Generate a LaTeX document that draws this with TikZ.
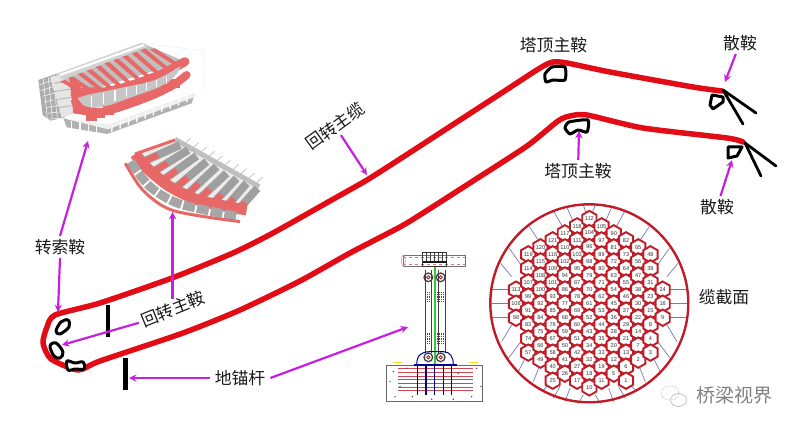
\documentclass[tikz,border=0pt]{standalone}
\usepackage{fontspec}
\setmainfont{Noto Sans CJK SC}
\newfontfamily\numfont{Liberation Sans}
\usetikzlibrary{shapes.geometric,calc}
\definecolor{cablered}{RGB}{226,12,22}
\definecolor{hexred}{RGB}{192,28,40}
\definecolor{ptrpink}{RGB}{196,32,222}
\definecolor{finpink}{RGB}{232,104,104}
\definecolor{spokeblue}{RGB}{120,120,170}
\tikzset{
  cable/.style={draw=cablered, line width=5.5pt, line join=round, line cap=round},
  bean/.style={draw=black, fill=white, line width=3pt, line join=round},
  stay/.style={draw=black, line width=2.8pt, line cap=round},
  rod/.style={draw=black, line width=4.4pt},
  ptr/.style={->, draw=ptrpink, line width=2.2pt},
  lbl/.style={font=\fontsize{16.8}{18}\selectfont, text=black!90, inner sep=3pt},
  hexcell/.style={regular polygon, regular polygon sides=6, shape border rotate=30,
    draw=hexred, fill=white, line width=1.9pt, minimum size=16.4pt, inner sep=0pt, outer sep=0pt,
    text=black!80, font=\numfont\fontsize{5.6}{6}\selectfont},
  spoke/.style={draw=spokeblue, line width=0.7pt},
}
\begin{document}
\begin{tikzpicture}[x=1pt, y=-1pt, >=stealth]
  \useasboundingbox (0,0) rectangle (800,430);

  % rods
  \draw[rod] (108,305) -- (108,337);
  \draw[rod] (125.5,358) -- (125.5,390);

  % main cable
  \draw[cable] plot[smooth, tension=0.4] coordinates {
    (722,91) (693,87) (610,72) (567,63) (553,62) (540,68) (500,94) (440,133) (400,159)
    (367,180) (337,197) (273,233) (233,253) (172,278) (100,303) (55,315) (47,327) (43,343)
    (51,359) (78,370) (100,361) (183,333) (240,310) (300,281) (350,253) (400,227) (423,213)
    (473,181) (527,146) (558,121) (570,116)
    (587,115) (643,128) (727,138) (743,142)};

  % saddles on the curve
  \draw[bean] plot[smooth cycle, tension=0.6] coordinates {(56,331) (61,322) (68,320) (69,327) (60,334)};
  \draw[bean] plot[smooth cycle, tension=0.6] coordinates {(50,346) (56,343) (63,352) (60,358) (54,356)};
  \draw[bean] plot[smooth cycle, tension=0.6] coordinates {(67,361) (75,363) (83,362) (84,369) (75,369) (68,370)};

  % tower saddles
  \draw[bean] plot[smooth cycle, tension=0.35] coordinates {(545,74) (552,67) (565,67) (565,80) (553,80) (546,82)};
  \draw[bean] plot[smooth cycle, tension=0.35] coordinates {(565,128) (569,122) (588,120) (587,132) (578,130) (570,134)};

  % splay saddles
  \draw[stay] (723,90) -- (756,113);
  \draw[stay] (723,90) -- (743,124);
  \draw[stay] (745,143) -- (776,166);
  \draw[stay] (745,143) -- (761,176);
  \draw[bean] (712,95) -- (723,97) -- (723,102) -- (713,109) -- (710,105) -- cycle;
  \draw[bean] (728,147) -- (742,147) -- (737,156) -- (728,158) -- cycle;

  % upper turning saddle
  \begin{scope}[shift={(20,30)}, x=0.3333pt, y=-0.3333pt]
    \draw[black!8, line width=0.4pt] (370,40) -- (550,62) -- (555,180);
    \fill[gray!65] (55,150) -- (112,130) -- (135,262) -- (92,272) -- (68,255) -- cycle;
    \foreach \k in {0,...,6} {
      \draw[white, line width=0.5pt] ({58+\k*5},{165+\k*17}) -- ({112+\k*3},{145+\k*20});
    }
    \foreach \k in {0,...,3} {
      \draw[white, line width=0.5pt] ({70+\k*15},{147-\k*5}) -- ({82+\k*15},{268-\k*2});
    }
    \fill[gray!20] (90,142) -- (150,125) -- (170,250) -- (125,262) -- cycle;
    \foreach \y in {160,185,210,235} { \draw[gray!60, line width=0.8pt] (100,\y) -- (155,\y-8); }
    \fill[gray!35] (112,130) -- (365,38) -- (387,47) -- (130,152) -- cycle;
    \draw[white, line width=2.2pt] (120,135) -- (372,45);
    \fill[gray!50] (130,150) -- (387,48) -- (495,95) -- (165,195) -- cycle;
    \foreach \ax/\ay/\bx/\by in {200/187/135/150, 228/186/160/140, 258/184/188/128, 285/178/215/118, 312/172/242/107,
      340/163/268/96, 368/152/295/86, 396/143/322/76, 424/132/350/66, 452/118/376/56, 480/104/405/55} {
      \fill[finpink] (\ax,\ay) -- (\ax-10,\ay+6) -- (\bx-15,\by+4) -- (\bx,\by) -- cycle;
    }
    \fill[finpink] (148,140) -- (185,160) -- (175,200) -- (240,262) -- (160,250) -- cycle;
    \draw[finpink, line width=9pt, line cap=round] plot[smooth, tension=0.5] coordinates {
      (165,192) (200,186) (260,185) (320,170) (380,150) (440,125) (495,95)};
    \foreach \x in {215,240,265,290,315,340,365,390,415,440,465} {
      \draw[finpink, line width=11pt] (\x,{240-(\x-230)*0.4}) -- (\x,{268-(\x-230)*0.4});
    }
    \fill[gray!45] (172,205) .. controls (185,245) and (240,235) .. (290,218)
      -- (410,175) .. controls (440,160) and (470,145) .. (482,108)
      -- (470,115) .. controls (440,135) and (410,150) .. (380,158)
      -- (200,195) -- cycle;
    \foreach \x in {215,250,285,320,350,380,410,440} {
      \draw[white, line width=1.2pt] (\x,{198-(\x-215)*0.25}) -- (\x,{234-(\x-215)*0.32});
    }
    \draw[finpink, line width=8pt, line cap=round] plot[smooth, tension=0.5] coordinates {
      (165,215) (190,240) (250,245) (320,225) (400,195) (460,165) (500,135)};
    \fill[gray!60] (130,265) -- (265,292) -- (525,190) -- (515,220) -- (262,312) -- (140,292) -- cycle;
    \fill[gray!12] (130,265) -- (265,283) -- (525,188) -- (522,202) -- (265,298) -- cycle;
    \foreach \k in {0,...,9} {
      \draw[white, line width=1.4pt] ({275+\k*25},{306-\k*10}) -- ({277+\k*25},{285-\k*10});
    }
    \foreach \x in {155,180,205,230} {
      \draw[white, line width=1.2pt] (\x,{272+(\x-155)*0.2}) -- (\x,{300+(\x-155)*0.2});
    }
  \end{scope}

  % lower turning saddle
  \begin{scope}[shift={(20,30)}, x=0.3333pt, y=-0.3333pt]
    \fill[gray!15] (345,372) -- (465,330) -- (718,470) -- (660,550) -- (450,470) -- cycle;
    \draw[gray!50, line width=5pt] (465,328) -- (718,470);
    \foreach \k in {0,...,9} {
      \draw[gray!50, line width=0.7pt] ({495+\k*24},{340+\k*13}) -- ({512+\k*24},{325+\k*13});
    }
    \foreach \ax/\ay/\bx/\by in {370/395/480/345, 400/425/505/360, 430/450/530/378, 465/475/560/395,
      500/495/590/410, 535/510/620/430, 575/525/650/445, 615/535/680/460, 650/545/712/475} {
      \draw[gray!75, line width=8pt] (\ax,\ay) -- (\bx,\by);
      \draw[finpink, line width=6pt] (\ax,\ay) -- ($(\ax,\ay)!0.4!(\bx,\by)$);
    }
    \draw[finpink, line width=3pt] (465,330) -- (345,372);
    \draw[finpink, line width=11pt] plot[smooth, tension=0.5] coordinates {
      (345,372) (385,418) (450,470) (540,512) (680,540)};
    \draw[gray!70, line width=9pt, dash pattern=on 12pt off 2pt] plot[smooth, tension=0.5] coordinates {
      (332,395) (390,470) (480,522) (655,560)};
    \draw[finpink, line width=3pt] plot[smooth, tension=0.5] coordinates {
      (316,400) (370,482) (460,542) (660,575)};
  \end{scope}

  % anchor detail
  \begin{scope}[shift={(375,240)}, x=0.3333pt, y=-0.3333pt]
    \draw[black!55, line width=0.8pt] (85,45) rectangle (270,80);
    \draw[hexred!60, line width=0.6pt, dashed] (85,52) -- (270,52);
    \draw[hexred!60, line width=0.6pt, dashed] (85,74) -- (270,74);
    \draw[hexred!50, line width=0.5pt] (85,62) ellipse (6 and 17);
    \draw[black!80, line width=1pt] (143,38) rectangle (215,80);
    \foreach \x in {143,155,...,215} { \draw[black!75, line width=0.6pt] (\x,38) -- (\x,70); }
    \draw[black!90, line width=1.8pt] (143,65) -- (215,65);
    \foreach \x in {150,168,190,210} { \draw[black!75, line width=0.9pt] (\x,90) -- (\x,340); }
    \draw[green!55!gray, line width=1.1pt] (180,80) -- (180,375);
    \foreach \x in {160,197} {
      \draw[black!75, line width=1.3pt] (\x,112) circle (13);
      \draw[hexred, line width=0.9pt] (\x,112) circle (5);
      \draw[black!75, line width=1.3pt] (\x,352) circle (13);
      \draw[hexred, line width=0.9pt] (\x,352) circle (5);
      \foreach \y in {155,280} {
        \foreach \d in {-9,-3,3,9} { \draw[black!70, line width=1.4pt, densely dotted] (\x+\d,\y) -- (\x+\d,\y+32); }
      }
    }
    \draw[blue!60!black, line width=1pt] (125,375) .. controls (125,345) and (140,335) .. (165,335)
      -- (205,335) .. controls (225,335) and (235,350) .. (235,375);
    \draw[black!60, line width=0.9pt, fill=white] (35,375) rectangle (323,485);
    \foreach \y in {386,397,...,452} { \draw[hexred!80, line width=0.8pt] (68,\y) -- (295,\y); }
    \draw[blue!55!black, line width=1.4pt] (118,375) -- (245,375);
    \foreach \x in {128,153,178,205,230} { \draw[blue!55!black, line width=1.5pt] (\x,375) -- (\x,465); }
    \foreach \x/\y in {45/425, 75/440, 55/395, 95/385, 112/470, 250/400, 305/385, 318/440, 290/470, 170/478, 235/478, 60/470} {
      \fill[black!70] (\x,\y) circle (2.5);
    }
    \draw[yellow!80!orange, line width=1.4pt] (55,368) -- (80,368);
    \draw[yellow!80!orange, line width=1.4pt] (283,368) -- (308,368);
  \end{scope}

  % section circle
  \coordinate (secC) at (589.3,303.3);
  \foreach \ax/\ay/\bx/\by in {-293/-41/-243/-41, -293/1/-243/1, -293/43/-243/43,
    -266/-120/-233/-80, -240/-165/-205/-115, -180/-230/-153/-190, -106/-275/-78/-225,
    -66/-285/-48/-245, -18/-295/-10/-273, -263/115/-233/65, -243/165/-205/115,
    -213/205/-195/170, -168/235/-148/185, -138/260/-123/245, -108/285/-88/250,
    -73/295/-58/255, -33/300/-18/275} {
    \draw[spoke] ($(secC)+({\ax/3},{\ay/3})$) -- ($(secC)+({\bx/3},{\by/3})$);
    \draw[spoke] ($(secC)+({-\ax/3},{\ay/3})$) -- ($(secC)+({-\bx/3},{\by/3})$);
  }
  \draw[hexred, line width=2.4pt] (secC) circle (99);
  \foreach \col/\first/\nums in {
    0/284/{113,106,98},
    1/178/{119,114,107,99,91,83,74,57},
    2/157/{120,115,108,100,92,84,75,66,49},
    3/136/{121,116,109,101,93,85,76,67,58,40,25},
    4/115/{117,110,102,94,86,77,68,59,50,41,26},
    5/94/{118,111,103,95,87,78,69,60,51,42,27,17},
    6/72/{112,104,96,88,79,70,61,52,43,34,32,18,10},
    7/94/{105,97,89,80,71,62,53,44,35,33,19,11},
    8/115/{90,81,72,63,54,45,36,28,20,12,5},
    9/136/{82,73,64,55,46,37,29,21,13,6,1},
    10/157/{65,56,47,38,30,22,14,7,2},
    11/178/{48,39,31,23,15,8,4,3},
    12/284/{24,16,9}} {
    \foreach \n [count=\k from 0] in \nums {
      \node[hexcell] (hex\n) at ({480+(108+36.67*\col)/3},{195+(\first+42.1*\k)/3}) {\n};
    }
  }

  % labels
  \node[lbl] (towerA) at (553.5,45) {塔顶主鞍};
  \node[lbl] (towerB) at (578,171) {塔顶主鞍};
  \node[lbl] (splayA) at (740,43) {散鞍};
  \node[lbl] (splayB) at (717,207) {散鞍};
  \node[lbl, rotate=36] (turnCable) at (335,126) {回转主缆};
  \node[lbl, rotate=22] (turnSaddle) at (173,309) {回转主鞍};
  \node[lbl] (cableSaddle) at (60,247) {转索鞍};
  \node[lbl, inner sep=5pt] (anchorRod) at (240,378) {地锚杆};
  \node[lbl] (section) at (724,297) {缆截面};
  \node[font=\fontsize{19}{21}\selectfont, text=black!50, inner sep=0pt] (mark) at (734,395.5) {桥梁视界};

  % watermark icon
  \draw[black!30, line width=0.6pt, densely dotted] (670,393) ellipse (9 and 7);
  \draw[black!30, line width=0.6pt] (678.5,400) ellipse (8 and 6.5);

  % pointer ends
  \coordinate (cTowerB) at (579,131);
  \coordinate (cSplayA) at (725,82);
  \coordinate (cSplayB) at (732,160);
  \coordinate (cCable) at (367,175);
  \coordinate (cTop) at (88,141);
  \coordinate (cBend) at (58,312);
  \coordinate (cTrough) at (172.5,212);
  \coordinate (cPulley) at (62,345);
  \coordinate (cRod) at (129,378);
  \coordinate (cDetail) at (408,327);

  \draw[ptr] (towerB) -- (cTowerB);
  \draw[ptr] (splayA) -- (cSplayA);
  \draw[ptr] (splayB) -- (cSplayB);
  \draw[ptr] (turnCable) -- (cCable);
  \draw[ptr] (cableSaddle.north) -- (cTop);
  \draw[ptr] (cableSaddle.south) -- (cBend);
  \draw[ptr] (turnSaddle.north -| cTrough) -- (cTrough);
  \draw[ptr] (turnSaddle.west) -- (cPulley);
  \draw[ptr] (anchorRod.west) -- (cRod);
  \draw[ptr] (anchorRod.east) -- (cDetail);
\end{tikzpicture}
\end{document}
